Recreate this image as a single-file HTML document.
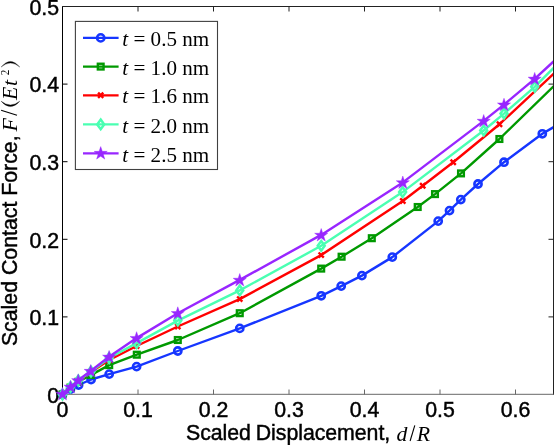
<!DOCTYPE html>
<html><head><meta charset="utf-8"><title>Scaled Contact Force</title>
<style>
html,body{margin:0;padding:0;background:#fff;}
body{width:554px;height:445px;overflow:hidden;}
svg{display:block;will-change:transform;}
text{fill:#000;}
.tk{font-family:"Liberation Sans",sans-serif;font-size:21.3px;stroke:#000;stroke-width:0.45px;}
.lb{font-family:"Liberation Sans",sans-serif;font-size:21.3px;stroke:#000;stroke-width:0.45px;}
.it{font-family:"Liberation Serif",serif;font-style:italic;font-size:21.8px;}
.ser{font-family:"Liberation Serif",serif;font-size:21.1px;}
</style></head><body>
<svg width="554" height="445" viewBox="0 0 554 445">
<defs><clipPath id="c"><rect x="40" y="0" width="513" height="420"/></clipPath></defs>
<!-- axes frame -->
<path d="M62.5 394.5V6.5" stroke="#000" stroke-width="1" fill="none"/>
<path d="M62 6.5H554" stroke="#222" stroke-width="1" fill="none"/>
<path d="M553.5 6V395" stroke="#222" stroke-width="1" fill="none"/>
<path d="M62.5 394.3H554" stroke="#686868" stroke-width="1" fill="none"/>
<text x="62.5" y="417.4" class="tk" text-anchor="middle">0</text>
<path d="M138.0 394.5V389.5" stroke="#686868"/>
<path d="M138.0 6.5V11.5" stroke="#222"/>
<text x="138.0" y="417.4" class="tk" text-anchor="middle">0.1</text>
<path d="M213.5 394.5V389.5" stroke="#686868"/>
<path d="M213.5 6.5V11.5" stroke="#222"/>
<text x="213.5" y="417.4" class="tk" text-anchor="middle">0.2</text>
<path d="M289.0 394.5V389.5" stroke="#686868"/>
<path d="M289.0 6.5V11.5" stroke="#222"/>
<text x="289.0" y="417.4" class="tk" text-anchor="middle">0.3</text>
<path d="M364.5 394.5V389.5" stroke="#686868"/>
<path d="M364.5 6.5V11.5" stroke="#222"/>
<text x="364.5" y="417.4" class="tk" text-anchor="middle">0.4</text>
<path d="M440.0 394.5V389.5" stroke="#686868"/>
<path d="M440.0 6.5V11.5" stroke="#222"/>
<text x="440.0" y="417.4" class="tk" text-anchor="middle">0.5</text>
<path d="M515.5 394.5V389.5" stroke="#686868"/>
<path d="M515.5 6.5V11.5" stroke="#222"/>
<text x="515.5" y="417.4" class="tk" text-anchor="middle">0.6</text>
<text x="59" y="402.8" class="tk" text-anchor="end">0</text>
<path d="M62.5 316.9H67.5" stroke="#000"/>
<path d="M553.5 316.9H548.5" stroke="#222"/>
<text x="59" y="325.2" class="tk" text-anchor="end">0.1</text>
<path d="M62.5 239.3H67.5" stroke="#000"/>
<path d="M553.5 239.3H548.5" stroke="#222"/>
<text x="59" y="247.6" class="tk" text-anchor="end">0.2</text>
<path d="M62.5 161.7H67.5" stroke="#000"/>
<path d="M553.5 161.7H548.5" stroke="#222"/>
<text x="59" y="170.0" class="tk" text-anchor="end">0.3</text>
<path d="M62.5 84.1H67.5" stroke="#000"/>
<path d="M553.5 84.1H548.5" stroke="#222"/>
<text x="59" y="92.4" class="tk" text-anchor="end">0.4</text>
<text x="59" y="14.8" class="tk" text-anchor="end">0.5</text>
<g clip-path="url(#c)">
<g stroke="#1636ff"><path d="M62.50 394.50 L70.50 389.00 L78.60 385.00 L91.10 379.50 L109.20 374.10 L136.60 366.60 L177.80 351.00 L239.75 328.40 L321.20 295.80 L341.20 286.10 L361.90 275.60 L392.30 257.10 L438.20 221.10 L449.50 210.60 L460.80 199.60 L478.00 184.00 L504.00 162.20 L542.30 133.80 L561.00 122.79" fill="none" stroke-width="2.4" stroke-linejoin="round"/><g fill="none" stroke-width="2.6"><circle cx="62.50" cy="394.50" r="3.6"/><circle cx="70.50" cy="389.00" r="3.6"/><circle cx="78.60" cy="385.00" r="3.6"/><circle cx="91.10" cy="379.50" r="3.6"/><circle cx="109.20" cy="374.10" r="3.6"/><circle cx="136.60" cy="366.60" r="3.6"/><circle cx="177.80" cy="351.00" r="3.6"/><circle cx="239.75" cy="328.40" r="3.6"/><circle cx="321.20" cy="295.80" r="3.6"/><circle cx="341.20" cy="286.10" r="3.6"/><circle cx="361.90" cy="275.60" r="3.6"/><circle cx="392.30" cy="257.10" r="3.6"/><circle cx="438.20" cy="221.10" r="3.6"/><circle cx="449.50" cy="210.60" r="3.6"/><circle cx="460.80" cy="199.60" r="3.6"/><circle cx="478.00" cy="184.00" r="3.6"/><circle cx="504.00" cy="162.20" r="3.6"/><circle cx="542.30" cy="133.80" r="3.6"/></g></g>
<g stroke="#009900"><path d="M62.50 394.50 L70.50 387.60 L78.40 381.80 L91.10 374.90 L109.20 365.10 L136.80 354.70 L177.80 340.00 L239.75 313.20 L321.20 268.60 L341.60 256.70 L371.80 238.20 L417.70 207.00 L435.00 194.10 L461.00 173.40 L499.40 139.00 L561.00 79.01" fill="none" stroke-width="2.4" stroke-linejoin="round"/><g fill="none" stroke-width="2.4"><rect x="59.65" y="391.65" width="5.7" height="5.7"/><rect x="67.65" y="384.75" width="5.7" height="5.7"/><rect x="75.55" y="378.95" width="5.7" height="5.7"/><rect x="88.25" y="372.05" width="5.7" height="5.7"/><rect x="106.35" y="362.25" width="5.7" height="5.7"/><rect x="133.95" y="351.85" width="5.7" height="5.7"/><rect x="174.95" y="337.15" width="5.7" height="5.7"/><rect x="236.90" y="310.35" width="5.7" height="5.7"/><rect x="318.35" y="265.75" width="5.7" height="5.7"/><rect x="338.75" y="253.85" width="5.7" height="5.7"/><rect x="368.95" y="235.35" width="5.7" height="5.7"/><rect x="414.85" y="204.15" width="5.7" height="5.7"/><rect x="432.15" y="191.25" width="5.7" height="5.7"/><rect x="458.15" y="170.55" width="5.7" height="5.7"/><rect x="496.55" y="136.15" width="5.7" height="5.7"/></g></g>
<g stroke="#ff0000"><path d="M62.50 394.50 L70.50 387.00 L78.40 380.80 L91.00 372.00 L109.20 360.00 L136.60 346.00 L177.80 326.50 L239.75 299.10 L321.20 255.10 L402.80 201.00 L422.70 185.70 L453.20 162.20 L499.50 124.20 L561.00 66.84" fill="none" stroke-width="2.4" stroke-linejoin="round"/><g fill="none" stroke-width="2.4"><path d="M59.90 391.90L65.10 397.10M59.90 397.10L65.10 391.90"/><path d="M67.90 384.40L73.10 389.60M67.90 389.60L73.10 384.40"/><path d="M75.80 378.20L81.00 383.40M75.80 383.40L81.00 378.20"/><path d="M88.40 369.40L93.60 374.60M88.40 374.60L93.60 369.40"/><path d="M106.60 357.40L111.80 362.60M106.60 362.60L111.80 357.40"/><path d="M134.00 343.40L139.20 348.60M134.00 348.60L139.20 343.40"/><path d="M175.20 323.90L180.40 329.10M175.20 329.10L180.40 323.90"/><path d="M237.15 296.50L242.35 301.70M237.15 301.70L242.35 296.50"/><path d="M318.60 252.50L323.80 257.70M318.60 257.70L323.80 252.50"/><path d="M400.20 198.40L405.40 203.60M400.20 203.60L405.40 198.40"/><path d="M420.10 183.10L425.30 188.30M420.10 188.30L425.30 183.10"/><path d="M450.60 159.60L455.80 164.80M450.60 164.80L455.80 159.60"/><path d="M496.90 121.60L502.10 126.80M496.90 126.80L502.10 121.60"/></g></g>
<g stroke="#4affb2"><path d="M62.50 394.50 L70.50 387.00 L78.40 380.50 L91.00 371.50 L109.20 358.00 L136.60 343.10 L177.80 320.60 L239.75 290.40 L321.20 245.80 L402.60 192.10 L483.70 130.50 L504.00 113.60 L534.70 86.80 L561.00 60.50" fill="none" stroke-width="2.4" stroke-linejoin="round"/><g fill="none" stroke-width="2.5"><polygon points="62.50,389.70 66.00,394.50 62.50,399.30 59.00,394.50"/><polygon points="70.50,382.20 74.00,387.00 70.50,391.80 67.00,387.00"/><polygon points="78.40,375.70 81.90,380.50 78.40,385.30 74.90,380.50"/><polygon points="91.00,366.70 94.50,371.50 91.00,376.30 87.50,371.50"/><polygon points="109.20,353.20 112.70,358.00 109.20,362.80 105.70,358.00"/><polygon points="136.60,338.30 140.10,343.10 136.60,347.90 133.10,343.10"/><polygon points="177.80,315.80 181.30,320.60 177.80,325.40 174.30,320.60"/><polygon points="239.75,285.60 243.25,290.40 239.75,295.20 236.25,290.40"/><polygon points="321.20,241.00 324.70,245.80 321.20,250.60 317.70,245.80"/><polygon points="402.60,187.30 406.10,192.10 402.60,196.90 399.10,192.10"/><polygon points="483.70,125.70 487.20,130.50 483.70,135.30 480.20,130.50"/><polygon points="504.00,108.80 507.50,113.60 504.00,118.40 500.50,113.60"/><polygon points="534.70,82.00 538.20,86.80 534.70,91.60 531.20,86.80"/></g></g>
<g stroke="#9826ff"><path d="M62.50 393.90 L70.60 386.80 L78.20 380.30 L90.70 371.00 L109.10 356.80 L136.60 338.10 L177.80 313.20 L239.75 279.90 L321.20 234.90 L402.80 182.40 L483.70 120.90 L504.00 104.60 L534.70 78.80 L561.00 54.66" fill="none" stroke-width="2.4" stroke-linejoin="round"/><g stroke-width="0.4" fill="#9826ff"><polygon points="62.50,387.50 64.09,392.22 69.06,392.27 65.07,395.23 66.56,399.98 62.50,397.10 58.44,399.98 59.93,395.23 55.94,392.27 60.91,392.22"/><polygon points="70.60,380.40 72.19,385.12 77.16,385.17 73.17,388.13 74.66,392.88 70.60,390.00 66.54,392.88 68.03,388.13 64.04,385.17 69.01,385.12"/><polygon points="78.20,373.90 79.79,378.62 84.76,378.67 80.77,381.63 82.26,386.38 78.20,383.50 74.14,386.38 75.63,381.63 71.64,378.67 76.61,378.62"/><polygon points="90.70,364.60 92.29,369.32 97.26,369.37 93.27,372.33 94.76,377.08 90.70,374.20 86.64,377.08 88.13,372.33 84.14,369.37 89.11,369.32"/><polygon points="109.10,350.40 110.69,355.12 115.66,355.17 111.67,358.13 113.16,362.88 109.10,360.00 105.04,362.88 106.53,358.13 102.54,355.17 107.51,355.12"/><polygon points="136.60,331.70 138.19,336.42 143.16,336.47 139.17,339.43 140.66,344.18 136.60,341.30 132.54,344.18 134.03,339.43 130.04,336.47 135.01,336.42"/><polygon points="177.80,306.80 179.39,311.52 184.36,311.57 180.37,314.53 181.86,319.28 177.80,316.40 173.74,319.28 175.23,314.53 171.24,311.57 176.21,311.52"/><polygon points="239.75,273.50 241.34,278.22 246.31,278.27 242.32,281.23 243.81,285.98 239.75,283.10 235.69,285.98 237.18,281.23 233.19,278.27 238.16,278.22"/><polygon points="321.20,228.50 322.79,233.22 327.76,233.27 323.77,236.23 325.26,240.98 321.20,238.10 317.14,240.98 318.63,236.23 314.64,233.27 319.61,233.22"/><polygon points="402.80,176.00 404.39,180.72 409.36,180.77 405.37,183.73 406.86,188.48 402.80,185.60 398.74,188.48 400.23,183.73 396.24,180.77 401.21,180.72"/><polygon points="483.70,114.50 485.29,119.22 490.26,119.27 486.27,122.23 487.76,126.98 483.70,124.10 479.64,126.98 481.13,122.23 477.14,119.27 482.11,119.22"/><polygon points="504.00,98.20 505.59,102.92 510.56,102.97 506.57,105.93 508.06,110.68 504.00,107.80 499.94,110.68 501.43,105.93 497.44,102.97 502.41,102.92"/><polygon points="534.70,72.40 536.29,77.12 541.26,77.17 537.27,80.13 538.76,84.88 534.70,82.00 530.64,84.88 532.13,80.13 528.14,77.17 533.11,77.12"/></g></g>
</g>
<!-- legend -->
<rect x="75.4" y="21.4" width="142.1" height="148.1" fill="#fff" stroke="#404040" stroke-width="1.1"/>
<g stroke="#1636ff"><path d="M83 37.9H118.6" stroke-width="2.25"/><g fill="none" stroke-width="2.6"><circle cx="100.70" cy="37.90" r="3.6"/></g></g>
<g stroke="#009900"><path d="M83 66.6H118.6" stroke-width="2.25"/><g fill="none" stroke-width="2.4"><rect x="97.85" y="63.75" width="5.7" height="5.7"/></g></g>
<g stroke="#ff0000"><path d="M83 95.3H118.6" stroke-width="2.25"/><g fill="none" stroke-width="2.4"><path d="M98.10 92.70L103.30 97.90M98.10 97.90L103.30 92.70"/></g></g>
<g stroke="#4affb2"><path d="M83 124.4H118.6" stroke-width="2.25"/><g fill="none" stroke-width="2.5"><polygon points="100.70,119.60 104.20,124.40 100.70,129.20 97.20,124.40"/></g></g>
<g stroke="#9826ff"><path d="M83 153.4H118.6" stroke-width="2.25"/><g stroke-width="0.4" fill="#9826ff"><polygon points="100.70,146.60 102.29,151.32 107.26,151.37 103.27,154.33 104.76,159.08 100.70,156.20 96.64,159.08 98.13,154.33 94.14,151.37 99.11,151.32"/></g></g>
<text x="122.3" y="46.0" class="ser"><tspan font-style="italic">t</tspan> = 0.5 nm</text>
<text x="122.3" y="74.7" class="ser"><tspan font-style="italic">t</tspan> = 1.0 nm</text>
<text x="122.3" y="103.4" class="ser"><tspan font-style="italic">t</tspan> = 1.6 nm</text>
<text x="122.3" y="132.5" class="ser"><tspan font-style="italic">t</tspan> = 2.0 nm</text>
<text x="122.3" y="161.5" class="ser"><tspan font-style="italic">t</tspan> = 2.5 nm</text>
<!-- axis labels -->
<text x="186" y="439.6" class="lb" word-spacing="-1" letter-spacing="-0.04">Scaled Displacement,</text>
<text x="396.5" y="441" class="it">d</text>
<path d="M410.1 441L414.8 425.4" stroke="#000" stroke-width="1.1" fill="none"/>
<text x="416.8" y="441" class="it">R</text>
<g transform="translate(16.7,346.1) rotate(-90)">
<text x="0" y="0" class="lb">Scaled Contact Force,</text>
<text x="214.5" y="0" class="it">F</text>
<path d="M230.8 0.3L235.8 -15.6" stroke="#000" stroke-width="1.1" fill="none"/>
<path d="M244.9 -15.6Q234.1 -6.25 244.9 3.1Q237.5 -6.25 244.9 -15.6Z" fill="#000" stroke="#000" stroke-width="0.3" stroke-linejoin="round"/>
<text x="246.2" y="0" class="it">E</text>
<text x="260.2" y="0" class="it">t</text>
<text transform="translate(270.9,-7.9) scale(0.82,1)" class="it" style="font-size:13.5px;font-style:normal">2</text>
<path d="M279.1 -15.6Q290.3 -6.25 279.1 3.1Q286.9 -6.25 279.1 -15.6Z" fill="#000" stroke="#000" stroke-width="0.3" stroke-linejoin="round"/>
</g>
</svg>
</body></html>
